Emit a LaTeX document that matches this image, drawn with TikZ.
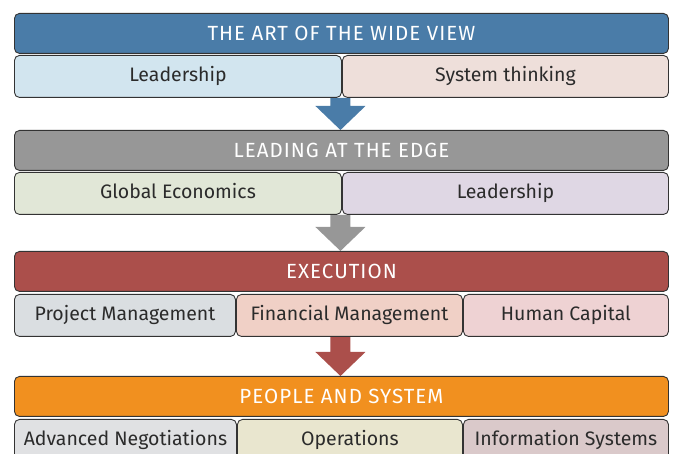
\documentclass[tikz,border=0pt]{standalone}
\usepackage{fontspec}
\setmainfont{Fira Sans}
\newfontfamily\headfont[LetterSpace=5]{Fira Sans}
\usetikzlibrary{calc,backgrounds}
\definecolor{hA}{HTML}{4A7CA8}
\definecolor{hB}{HTML}{979797}
\definecolor{hC}{HTML}{AB4F4B}
\definecolor{hD}{HTML}{F1901F}
\definecolor{sA1}{HTML}{D2E5EF}
\definecolor{sA2}{HTML}{EEDFDA}
\definecolor{sB1}{HTML}{E1E7D7}
\definecolor{sB2}{HTML}{DFD7E4}
\definecolor{sC1}{HTML}{DADEE1}
\definecolor{sC2}{HTML}{F0D0C6}
\definecolor{sC3}{HTML}{EED2D3}
\definecolor{sD1}{HTML}{E0E1E3}
\definecolor{sD2}{HTML}{E9E6CF}
\definecolor{sD3}{HTML}{DAC9CA}
\definecolor{txt}{HTML}{2B2B2B}
\definecolor{edge}{HTML}{333333}
\tikzset{
  box/.style={draw=edge, line width=0.9pt, rounded corners=5pt, anchor=north west, inner sep=0pt},
  head/.style={box, minimum width=654pt, minimum height=40pt, text=white, font=\headfont\fontsize{20.5}{24}\selectfont, text height=14.5pt, text depth=1pt},
  sub/.style={box, minimum height=42pt, text=txt, font=\fontsize{19.5}{22}\selectfont, text height=13.5pt, text depth=4pt},
}
\newcommand{\blockarrow}[3]{%
  \fill[#1] (#2) -- ++(-25,-24) -- ++(15,0) -- ($(#2|-#3)+(-10,0)$) -- ($(#2|-#3)+(10,0)$) -- ($(#2)+(10,-24)$) -- ++(15,0) -- cycle;}
\begin{document}
\begin{tikzpicture}[x=1pt,y=-1pt]
\useasboundingbox (0,0) rectangle (678,454);
\clip (0,0) rectangle (678,454);
% row 1
\node[head, fill=hA] (h1) at (14,13) {THE ART OF THE WIDE VIEW};
\node[sub, fill=sA1, minimum width=327pt] (s11) at (14,55) {Leadership};
\node[sub, fill=sA2, minimum width=326pt] (s12) at (342,55) {System thinking};
% row 2
\node[head, fill=hB] (h2) at (14,130) {LEADING AT THE EDGE};
\node[sub, fill=sB1, minimum width=327pt] (s21) at (14,172) {Global Economics};
\node[sub, fill=sB2, minimum width=326pt] (s22) at (342,172) {Leadership};
% row 3
\node[head, fill=hC] (h3) at (14,251) {EXECUTION};
\node[sub, fill=sC1, minimum width=221pt] (s31) at (14,294) {Project Management};
\node[sub, fill=sC2, minimum width=226pt] (s32) at (236,294) {Financial Management};
\node[sub, fill=sC3, minimum width=205pt] (s33) at (463,294) {Human Capital};
% row 4
\node[head, fill=hD] (h4) at (14,376) {PEOPLE AND SYSTEM};
\node[sub, fill=sD1, minimum width=222pt] (s41) at (14,419) {Advanced Negotiations};
\node[sub, fill=sD2, minimum width=225pt] (s42) at (237,419) {Operations};
\node[sub, fill=sD3, minimum width=205pt] (s43) at (463,419) {Information Systems};
% arrows
\begin{scope}[on background layer]
\coordinate (t1) at ($(h2.north)+(-1,0)$);
\coordinate (t2) at ($(h3.north)+(-1,0)$);
\coordinate (t3) at ($(h4.north)+(-1,0)$);
\blockarrow{hA}{t1}{s11.south}
\blockarrow{hB}{t2}{s21.south}
\blockarrow{hC}{t3}{s32.south}
\end{scope}
\end{tikzpicture}
\end{document}
